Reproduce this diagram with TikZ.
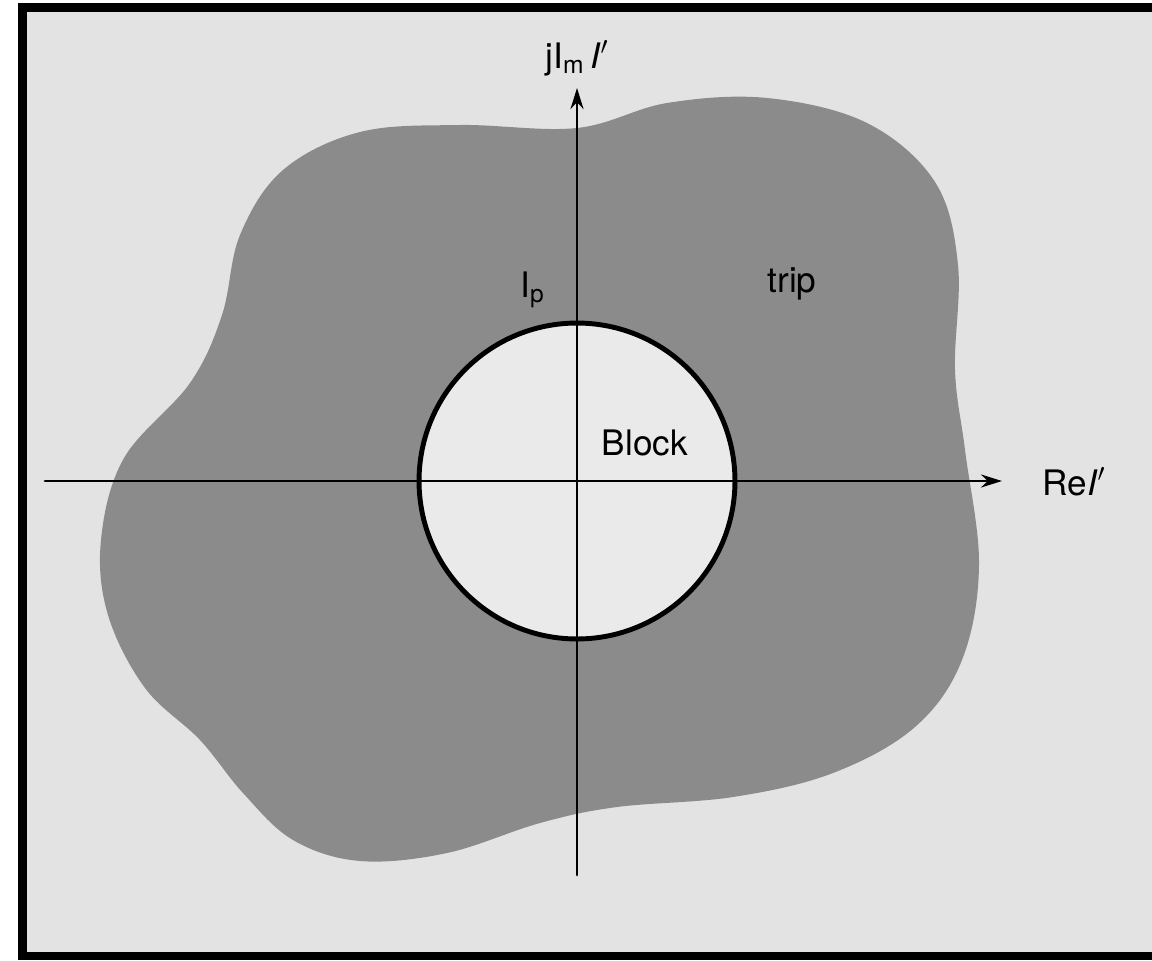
\documentclass[tikz,border=0pt]{standalone}
\usepackage{fontspec}
\setmainfont{TeX Gyre Heros}
\usetikzlibrary{arrows.meta}
\usepackage{xcolor}
\definecolor{paper}{RGB}{227,227,227}
\definecolor{tripgray}{RGB}{139,139,139}
\definecolor{blockfill}{RGB}{234,234,234}

\begin{document}
\begin{tikzpicture}[x=0.02cm,y=-0.02cm,>={Stealth[length=4.2mm,width=2.6mm]},font=\fontsize{20}{24}\selectfont,line cap=round]
\useasboundingbox (0,0) rectangle (1152,960);
\fill[white] (0,0) rectangle (1152,960);
\fill[paper] (27,12) rectangle (1152,952);
% frame
\fill[black] (18,3) rectangle (27,960);
\fill[black] (18,3) rectangle (1152,12);
\fill[black] (18,952) rectangle (1152,960);
% trip region
\fill[tripgray] plot[smooth cycle,tension=0.6] coordinates {
(101,540) (124,458) (190,383) (222,315) (240,235) (283,170) (360,132) (460,125)
(577,128) (667,103) (767,98) (867,123) (935,182) (958,265) (955,370) (965,450)
(979,565) (962,660) (915,727) (833,773) (733,797) (617,807) (540,823) (447,853)
(360,861) (293,840) (243,793) (200,740) (145,688) (108,615)};
% block circle
\coordinate (o) at (577,481);
\draw[line width=2.8pt,fill=blockfill] (o) circle[radius=3.16cm];
% axes
\coordinate (xl) at (45,481);
\coordinate (xr) at (1002,481);
\coordinate (yb) at (577,875);
\coordinate (yt) at (577,88);
\draw[->,line width=1.6pt] (xl) -- (xr);
\draw[->,line width=1.6pt] (yb) -- (yt);
% labels
\node[anchor=base] (relbl) at (1074,495) {Re\textit{I}$'$};
\node[anchor=base] (imlbl) at (577,68) {jI\textsubscript{m}\,\textit{I}$'$};
\node[anchor=base west,inner sep=0pt] (iplbl) at (520,297) {I\textsubscript{p}};
\node[anchor=base] (triplbl) at (792,292) {trip};
\node[anchor=base] (blocklbl) at (645,455) {Block};
\end{tikzpicture}
\end{document}
